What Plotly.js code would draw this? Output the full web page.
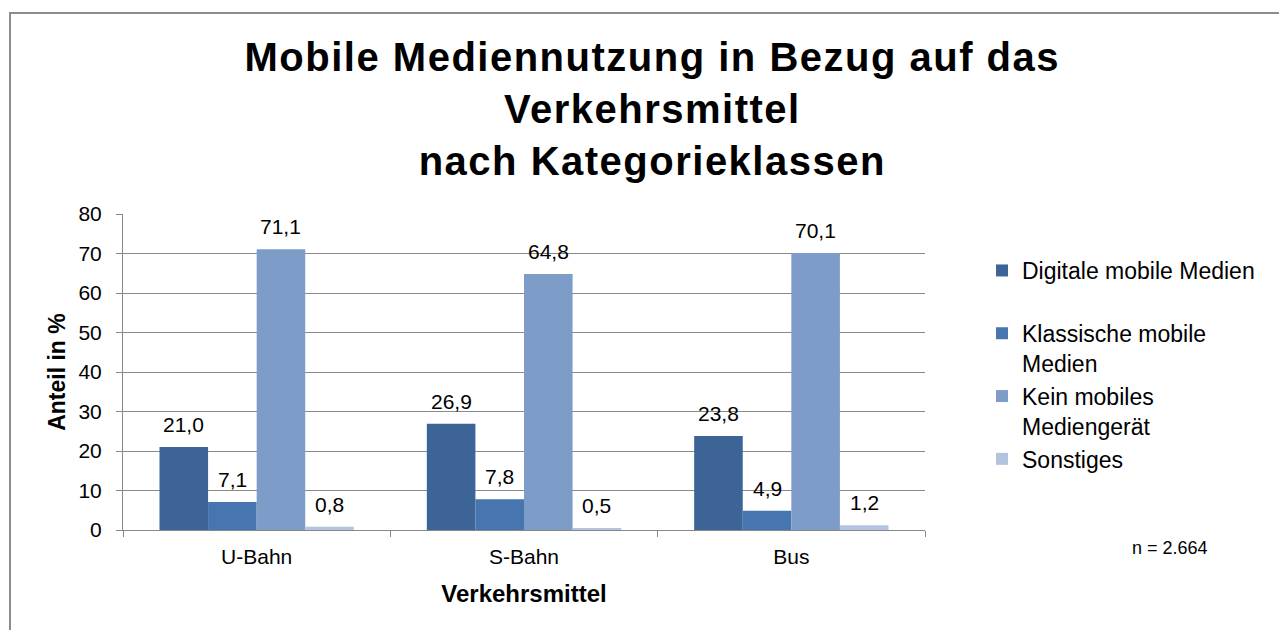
<!DOCTYPE html>
<html>
<head>
<meta charset="utf-8">
<script src="https://cdn.plot.ly/plotly-3.0.1.min.js"></script>
<style>
html,body{margin:0;padding:0;background:#fff;}
#chart{width:1279px;height:630px;}
#chart .gtitle{letter-spacing:1.5px;}
</style>
</head>
<body>
<div id="chart"></div>
<script>
const categories = ["U-Bahn", "S-Bahn", "Bus"];
const seriesNames = ["Digitale mobile Medien<br> ", "Klassische mobile<br>Medien", "Kein mobiles<br>Mediengerät", "Sonstiges"];
const digitale = [21.0, 26.9, 23.8];
const klassische = [7.1, 7.8, 4.9];
const keinGeraet = [71.1, 64.8, 70.1];
const sonstiges = [0.8, 0.5, 1.2];
const yTicks = [0, 10, 20, 30, 40, 50, 60, 70, 80];
const colors = ["#3C6496", "#4675AF", "#7E9CC8", "#B4C4E0"];

const series = [digitale, klassische, keinGeraet, sonstiges];
const font = "Liberation Sans, Arial, sans-serif";
const bargap = 0.273;

const traces = series.map((vals, j) => ({
  type: "bar",
  name: seriesNames[j],
  x: categories,
  y: vals,
  legendgroup: "g" + j,
  marker: {color: colors[j], line: {width: 0}},
  hoverinfo: "y"
}));

const L = 123, R = 925, T = 214, B = 530;
const px = xv => (xv - L) / (R - L);
const py = yv => (B - yv) / (B - T);

const w = (1 - bargap) / series.length;
const annotations = [];
series.forEach((vals, j) => {
  vals.forEach((v, i) => {
    annotations.push({
      x: i + (j - (series.length - 1) / 2) * w,
      y: v,
      xref: "x", yref: "y",
      text: v.toFixed(1).replace(".", ","),
      showarrow: false,
      xanchor: "center",
      yanchor: "bottom",
      yshift: 9,
      font: {family: font, size: 21, color: "#000"}
    });
  });
});
annotations.push({
  x: px(1170), y: py(548), xref: "paper", yref: "paper",
  xanchor: "center", yanchor: "middle",
  text: "n = 2.664", showarrow: false,
  font: {family: font, size: 18, color: "#000"}
});

const layout = {
  width: 1279, height: 630,
  margin: {l: L, r: 1279 - R, t: T, b: 630 - B},
  paper_bgcolor: "#fff", plot_bgcolor: "#fff",
  separators: ",.",
  barmode: "group",
  bargap: bargap,
  bargroupgap: 0,
  font: {family: font, color: "#000"},
  title: {
    text: "<b>Mobile Mediennutzung in Bezug auf das<br>Verkehrsmittel<br>nach Kategorieklassen</b>",
    font: {family: font, size: 40, color: "#000"},
    x: 0.51, xref: "container", xanchor: "center",
    y: 0.888, yref: "container", yanchor: "top"
  },
  xaxis: {
    type: "category",
    showgrid: false,
    showline: true, linecolor: "#888", linewidth: 1,
    ticks: "outside", tickson: "boundaries", ticklen: 6, tickcolor: "#888",
    ticklabelstandoff: 8,
    tickfont: {family: font, size: 21, color: "#000"},
    title: {text: "<b>Verkehrsmittel</b>", font: {family: font, size: 24, color: "#000"}, standoff: 17},
    fixedrange: true
  },
  yaxis: {
    range: [0, 80],
    tickvals: yTicks,
    showgrid: true, gridcolor: "#8a8a8a", gridwidth: 1,
    zeroline: false,
    showline: true, linecolor: "#888", linewidth: 1,
    ticks: "outside", ticklen: 6, tickcolor: "#888",
    ticklabelstandoff: 10,
    tickfont: {family: font, size: 21, color: "#000"},
    title: {text: "<b>Anteil in %</b>", font: {family: font, size: 23, color: "#000"}, standoff: 6},
    fixedrange: true
  },
  legend: {
    x: px(982), y: py(249), xanchor: "left", yanchor: "top",
    font: {family: font, size: 23, color: "#000"},
    valign: "top",
    itemwidth: 30,
    tracegroupgap: 0,
    traceorder: "normal",
    bgcolor: "rgba(0,0,0,0)"
  },
  shapes: [{
    type: "path", xref: "paper", yref: "paper",
    path: `M ${px(10)} ${py(640)} L ${px(10)} ${py(13)} L ${px(1290)} ${py(13)}`,
    line: {color: "#8c8c8c", width: 2}
  }],
  annotations: annotations,
  showlegend: true
};

Plotly.newPlot("chart", traces, layout, {displayModeBar: false, staticPlot: true});
</script>
</body>
</html>
